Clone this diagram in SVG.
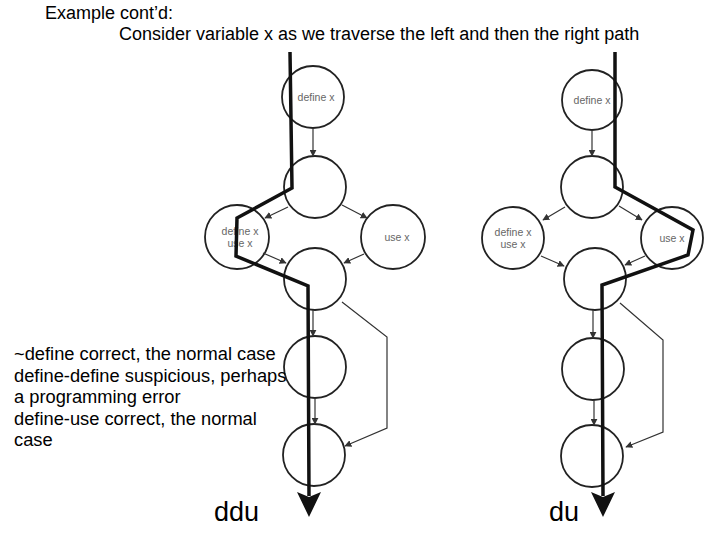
<svg xmlns="http://www.w3.org/2000/svg" width="720" height="540" viewBox="0 0 720 540">
<defs>
<marker id="ah" viewBox="0 0 10 10" refX="9" refY="5" markerWidth="7" markerHeight="7" markerUnits="userSpaceOnUse" orient="auto">
<path d="M0,0 L10,5 L0,10 z" fill="#333"/>
</marker>
</defs>
<style>
.n{fill:#fff;stroke:#222;stroke-width:1.8}
.lbl{font-family:"Liberation Sans",Arial,sans-serif;font-size:10.5px;fill:#666;text-anchor:middle}
.t{font-family:"Liberation Sans",Arial,sans-serif;font-size:18px;fill:#000}
.b{font-family:"Liberation Sans",Arial,sans-serif;font-size:18.3px;fill:#000}
.big{font-family:"Liberation Sans",Arial,sans-serif;font-size:27px;fill:#000}
.e{fill:none;stroke:#333;stroke-width:1.2;marker-end:url(#ah)}
.p{fill:none;stroke:#111;stroke-width:3.5;stroke-linejoin:miter}
</style>
<rect width="720" height="540" fill="#fff"/>
<text class="t" x="45" y="19">Example cont’d:</text>
<text class="t" x="119" y="40">Consider variable x as we traverse the left and then the right path</text>

<g id="left-nodes">
<g id="L1"><circle class="n" cx="313" cy="97" r="31"/><text class="lbl" x="316" y="101">define x</text></g>
<g id="L2"><circle class="n" cx="315" cy="187" r="31"/></g>
<g id="L3"><circle class="n" cx="237" cy="237" r="32"/><text class="lbl" x="240" y="235">define x</text><text class="lbl" x="240" y="247">use x</text></g>
<g id="L4"><circle class="n" cx="393" cy="237" r="32"/><text class="lbl" x="397" y="241">use x</text></g>
<g id="L5"><circle class="n" cx="315" cy="279" r="31"/></g>
<g id="L6"><circle class="n" cx="315" cy="367" r="31"/></g>
<g id="L7"><circle class="n" cx="314" cy="455" r="31"/></g>
</g>

<g id="right-nodes">
<g id="R1"><circle class="n" cx="592" cy="100" r="30"/><text class="lbl" x="592" y="104">define x</text></g>
<g id="R2"><circle class="n" cx="592" cy="187" r="31"/></g>
<g id="R3"><circle class="n" cx="513" cy="238" r="31"/><text class="lbl" x="513" y="236">define x</text><text class="lbl" x="513" y="248">use x</text></g>
<g id="R4"><circle class="n" cx="672" cy="238" r="31"/><text class="lbl" x="672" y="242">use x</text></g>
<g id="R5"><circle class="n" cx="595" cy="279" r="31"/></g>
<g id="R6"><circle class="n" cx="593" cy="369" r="31"/></g>
<g id="R7"><circle class="n" cx="592" cy="456" r="31"/></g>
</g>

<g id="connectors">
<line class="e" x1="313" y1="128" x2="313" y2="156"/>
<line class="e" x1="288" y1="207" x2="265" y2="218"/>
<line class="e" x1="342" y1="205" x2="367" y2="218"/>
<line class="e" x1="263" y1="253" x2="286" y2="263"/>
<line class="e" x1="364" y1="254" x2="344" y2="263"/>
<line class="e" x1="313" y1="310" x2="313" y2="336"/>
<line class="e" x1="315" y1="398" x2="315" y2="424"/>
<polyline class="e" points="342,302 387,337 387,428 345,446"/>

<line class="e" x1="592" y1="130" x2="592" y2="156"/>
<line class="e" x1="565" y1="207" x2="543" y2="220"/>
<line class="e" x1="619" y1="206" x2="642" y2="220"/>
<line class="e" x1="541" y1="256" x2="564" y2="266"/>
<line class="e" x1="645" y1="256" x2="625" y2="265"/>
<line class="e" x1="593" y1="310" x2="593" y2="338"/>
<line class="e" x1="594" y1="400" x2="594" y2="425"/>
<polyline class="e" points="620,303 663,340 663,432 626,447"/>

<polyline class="p" points="290,52 292,188 237,218 236,256 308,286 309,496"/>
<path d="M297,492 L309,497 L321,492 L309,517 z" fill="#111"/>
<polyline class="p" points="615,52 615,187 693,230 688,255 602,285 603,496"/>
<path d="M591,492 L603,497 L615,492 L603,517 z" fill="#111"/>
</g>

<text class="b" x="14" y="360">~define correct, the normal case</text>
<text class="b" x="14" y="382">define-define suspicious, perhaps</text>
<text class="b" x="14" y="403">a programming error</text>
<text class="b" x="14" y="425">define-use correct, the normal</text>
<text class="b" x="14" y="446">case</text>
<text class="big" x="214" y="521">ddu</text>
<text class="big" x="549" y="521">du</text>
</svg>
